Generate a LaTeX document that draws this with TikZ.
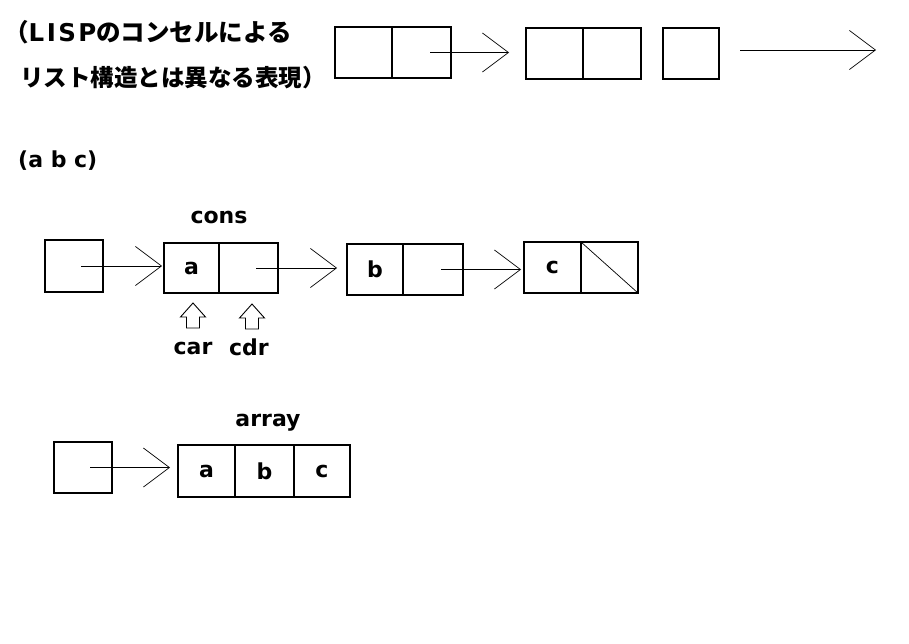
\documentclass[tikz,border=0pt]{standalone}
\usepackage{fontspec}
\setmainfont{DejaVu Sans}
\newfontfamily\jpfont{Noto Sans CJK JP}
\usetikzlibrary{arrows.meta,positioning}

\tikzset{
  hollowup/.pic = {
    \draw[line width=0.9pt] (0,0) -- (12.5,14) -- (6.5,14) -- (6.5,25)
      -- (-6.5,25) -- (-6.5,14) -- (-12.5,14) -- cycle;
  }
}

\begin{document}
\begin{tikzpicture}[x=1pt, y=-1pt,
    cell/.style = {draw, line width=1.1pt, minimum width=57pt, minimum height=51pt,
      inner sep=0pt, outer sep=0pt, font=\bfseries\fontsize{22}{26}\selectfont},
    lbl/.style = {inner sep=0pt, font=\bfseries\fontsize{22}{26}\selectfont},
    ptr/.style = {line width=0.9pt,
      -{Straight Barb[length=26pt,width=39pt,line width=0.7pt]}, shorten >=#1},
    ptr/.default = 3pt]
\useasboundingbox (0,0) rectangle (909,644);

\node[lbl, anchor=base west, font=\bfseries\fontsize{24.5}{28}\selectfont] (title1) at (4,42)
  {{\jpfont （}{\addfontfeature{LetterSpace=10}LISP}{\jpfont のコンセルによる}};
\node[lbl, anchor=base west, font=\bfseries\fontsize{23.5}{28}\selectfont] (title2) at (20,87)
  {\jpfont リスト構造とは異なる表現）};

\node[cell] (t1) at (363.5,52.5) {};
\node[cell, right=0pt of t1, minimum width=59pt] (t2) {};
\node[cell] (t3) at (554.5,53.5) {};
\node[cell, right=0pt of t3, minimum width=58pt] (t4) {};
\node[cell, minimum width=56pt] (t5) at (691,53.5) {};
\coordinate (lineS) at (740,50);
\coordinate (lineE) at (876,50);
\draw[ptr=17pt] ([xshift=8.5pt]t2.center) -- (t2.center -| t3.west);
\draw[ptr=0pt] (lineS) -- (lineE);

\node[lbl, anchor=base west] (abc) at (18,168) {(a b c)};

\node[cell, minimum width=58pt, minimum height=52pt] (p0) at (74,266) {};
\node[cell, minimum width=55pt, minimum height=50pt] (ca) at (191.5,268) {a};
\node[cell, right=0pt of ca, minimum width=59pt, minimum height=50pt] (cd) {};
\node[cell, minimum width=56pt] (ba) at (375,269.5) {b};
\node[cell, right=0pt of ba, minimum width=60pt] (bd) {};
\node[cell] (cc) at (552.5,267.5) {c};
\node[cell, right=0pt of cc] (cn) {};
\draw[line width=0.7pt] (cn.north west) -- (cn.south east);

\draw[ptr=2pt] ([xshift=7pt]p0.center) -- (p0.center -| ca.west);
\draw[ptr=10pt] ([xshift=7.5pt]cd.center) -- (cd.center -| ba.west);
\draw[ptr=3pt] ([xshift=8pt]bd.center) -- (bd.center -| cc.west);

\node[lbl, anchor=base] (conslbl) at ([yshift=19pt]ca.north east) {cons};
\pic at ([xshift=1.5pt,yshift=-10pt]ca.south) {hollowup};
\pic at ([xshift=3.5pt,yshift=-11pt]cd.south) {hollowup};
\node[lbl, anchor=base] (carlbl) at (193,354) {car};
\node[lbl, anchor=base] (cdrlbl) at (249,355) {cdr};

\node[cell, minimum width=58pt] (r0) at (83,467.5) {};
\node[cell, minimum height=52pt] (ra) at (206.5,471) {a};
\node[cell, right=0pt of ra, minimum width=59pt, minimum height=52pt] (rb) {b};
\node[cell, right=0pt of rb, minimum width=56pt, minimum height=52pt] (rc) {c};
\node[lbl, anchor=base] (arraylbl) at ([xshift=3.5pt,yshift=19pt]rb.north) {array};
\draw[ptr=8pt] ([xshift=7pt]r0.center) -- (r0.center -| ra.west);
\end{tikzpicture}
\end{document}
